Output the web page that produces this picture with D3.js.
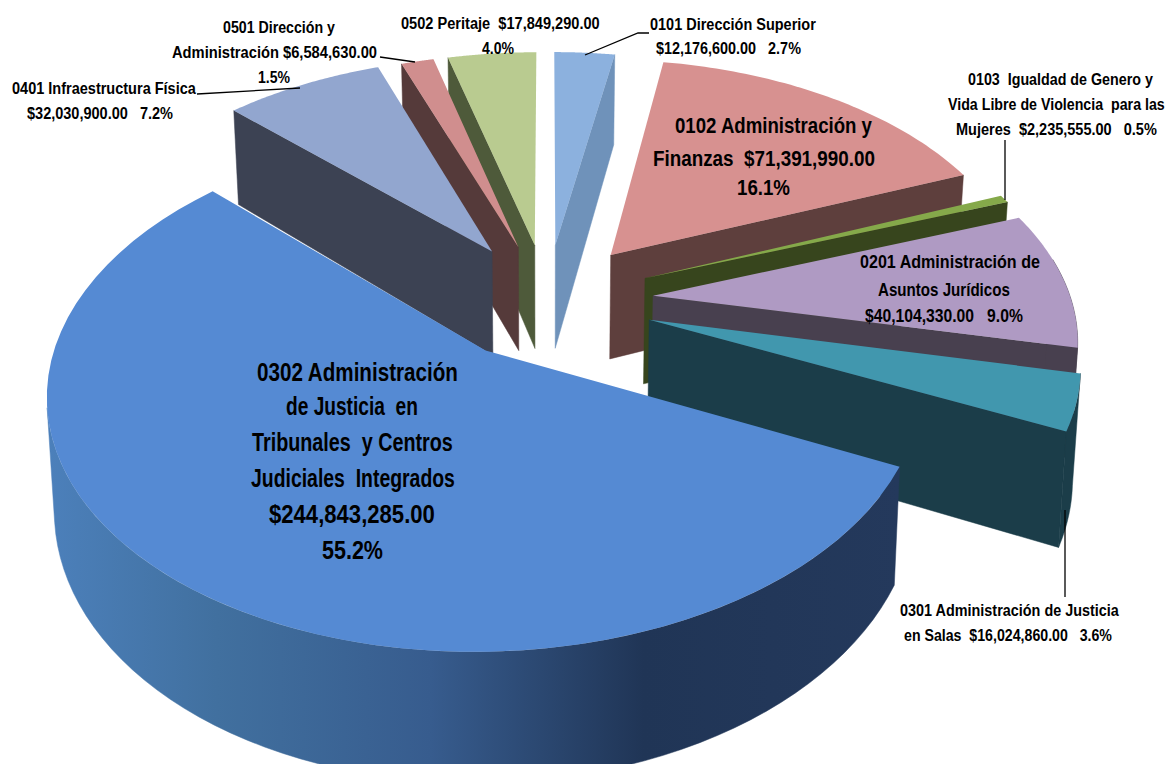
<!DOCTYPE html>
<html>
<head>
<meta charset="utf-8">
<script src="https://cdnjs.cloudflare.com/ajax/libs/d3/7.8.5/d3.min.js"></script>
<style>
  body { margin: 0; background: #fff; }
  text { font-family: "Liberation Sans Narrow", "Liberation Sans", sans-serif; font-weight: bold; fill: #000; white-space: pre; }
</style>
</head>
<body>
<svg id="chart" width="1166" height="764"></svg>
<script>
// budget per program, clockwise from 12 o'clock
const codes = ["0101", "0102", "0103", "0201", "0301", "0302", "0401", "0501", "0502"];
const amounts = [12176600, 71391990, 2235555, 40104330, 16024860, 244843285, 32030900, 6584630, 17849290];

const topColors = ["#8cb1de", "#d79190", "#85a94a", "#af9ac3", "#4197ae", "#558ad3", "#92a6cf", "#d08e8e", "#b9cb90"];
const sideColors = ["#6f92ba", "#5e3f3d", "#37451d", "#48404f", "#1b3d49", "#22375a", "#3c4253", "#553a3a", "#4e5a3a"];
const explodes = [0.24, 0.25, 0.255, 0.255, 0.255, 0.25, 0.25, 0.24, 0.24];

// back to front
const drawOrder = ["0502", "0501", "0401", "0101", "0102", "0103", "0201", "0301", "0302"];

const labelLines = [
  "0501 Dirección y", "Administración $6,584,630.00", "1.5%",
  "0401 Infraestructura Física", "$32,030,900.00   7.2%",
  "0502 Peritaje  $17,849,290.00", "4.0%",
  "0101 Dirección Superior", "$12,176,600.00   2.7%",
  "0102 Administración y", "Finanzas  $71,391,990.00", "16.1%",
  "0103  Igualdad de Genero y", "Vida Libre de Violencia  para las", "Mujeres  $2,235,555.00   0.5%",
  "0201 Administración de", "Asuntos Jurídicos", "$40,104,330.00   9.0%",
  "0301 Administración de Justicia", "en Salas  $16,024,860.00   3.6%",
  "0302 Administración", "de Justicia  en", "Tribunales  y Centros", "Judiciales  Integrados", "$244,843,285.00", "55.2%"
];

// [left, right, baseline, font size] for each line above
const labelBoxes = [
  [223, 335, 33, 16], [172, 377, 58, 16], [258, 290, 83, 16],
  [12, 196, 94, 16], [27, 173, 119, 16],
  [401, 600, 29, 16], [482, 514, 54, 16],
  [650, 816, 30, 16], [656, 801, 54, 16],
  [675, 872, 133, 22], [653, 875, 166, 22], [737, 790, 195, 22],
  [968, 1153, 85, 16], [948, 1165, 110, 16], [956, 1157, 135, 16],
  [860, 1040, 268, 18], [878, 1010, 296, 18], [865, 1023, 322, 18],
  [900, 1119, 616, 16], [904, 1112, 641, 16],
  [257, 458, 381, 25], [286, 418, 415, 25], [252, 453, 451, 25], [251, 455, 487, 25], [269, 435, 523, 25], [322, 383, 559, 25]
];

const leaders = [
  [[585, 55], [638, 33], [649, 33]],
  [[1005, 140], [1005, 200]],
  [[1065, 510], [1065, 597]],
  [[197, 94], [300, 88]],
  [[380, 57], [415, 62]]
];

// 3d view of the pie
const cx = 547, cy = 300, rx = 418, ry = 238, depth = 107;
const persp = 0.153, zShrink = 0.015;

function project(wx, wy, z) {
  let s = 1 / (1 - persp * wy);
  return [cx + rx * wx * s * (1 - zShrink * z), cy + ry * wy * s + depth * z * s];
}

const svg = d3.select("#chart");
const line = d3.line();

const grad = svg.append("defs").append("linearGradient")
  .attr("id", "mainWall")
  .attr("gradientUnits", "userSpaceOnUse")
  .attr("x1", 46).attr("x2", 900).attr("y1", 0).attr("y2", 0);
[[0, "#4c80bb"], [0.2, "#41709f"], [0.45, "#375c8e"], [0.7, "#203556"], [1, "#24395c"]].forEach(d => {
  grad.append("stop").attr("offset", d[0]).attr("stop-color", d[1]);
});

const arcs = d3.pie().sort(null).startAngle(0).endAngle(2 * Math.PI)(amounts);

const slices = codes.map((code, i) => {
  let a = arcs[i];
  let mid = (a.startAngle + a.endAngle) / 2;
  return {
    code: code,
    start: a.startAngle,
    end: a.endAngle,
    ox: explodes[i] * Math.sin(mid),
    oy: -explodes[i] * Math.cos(mid),
    top: topColors[i],
    side: sideColors[i]
  };
});

function rimPoint(sl, t, z) {
  return project(sl.ox + Math.sin(t), sl.oy - Math.cos(t), z);
}

function rimAngles(a, b) {
  return d3.range(0, 61).map(k => a + (b - a) * k / 60);
}

drawOrder.forEach(code => {
  let sl = slices.find(d => d.code == code);
  let g = svg.append("g").attr("class", "slice s" + code);

  // cut faces
  [[sl.start, sl.start > Math.PI], [sl.end, sl.end < Math.PI]].forEach(([t, visible]) => {
    if (!visible) return;
    g.append("path")
      .attr("d", line([project(sl.ox, sl.oy, 0), rimPoint(sl, t, 0), rimPoint(sl, t, 1), project(sl.ox, sl.oy, 1)]) + "Z")
      .attr("fill", sl.side)
      .attr("stroke", sl.side)
      .attr("stroke-width", 0.5);
  });

  // outer wall, from the right of the pie round to its leftmost point
  let a = Math.max(sl.start, Math.PI * 0.45), b = Math.min(sl.end, Math.PI * 1.43);
  if (a < b) {
    let ts = rimAngles(a, b);
    let pts = ts.map(t => rimPoint(sl, t, 0)).concat(ts.slice().reverse().map(t => rimPoint(sl, t, 1)));
    let fill = code == "0302" ? "url(#mainWall)" : sl.side;
    g.append("path")
      .attr("d", line(pts) + "Z")
      .attr("fill", fill)
      .attr("stroke", fill)
      .attr("stroke-width", 0.5);
  }

  // top
  let topPts = [project(sl.ox, sl.oy, 0)].concat(rimAngles(sl.start, sl.end).map(t => rimPoint(sl, t, 0)));
  g.append("path")
    .attr("d", line(topPts) + "Z")
    .attr("fill", sl.top);
});

svg.selectAll("path.leader")
  .data(leaders)
  .join("path")
  .attr("class", "leader")
  .attr("d", d => line(d))
  .attr("fill", "none")
  .attr("stroke", "#000")
  .attr("stroke-width", 1.3);

// squeeze each line horizontally to the width it has in the chart
svg.selectAll("text.label")
  .data(labelLines)
  .join("text")
  .attr("class", "label")
  .style("font-size", (d, i) => labelBoxes[i][3] + "px")
  .text(d => d)
  .attr("transform", function (d, i) {
    let box = labelBoxes[i];
    let sx = (box[1] - box[0]) / this.getComputedTextLength();
    return `translate(${box[0]},${box[2]}) scale(${sx},1)`;
  });
</script>
</body>
</html>
